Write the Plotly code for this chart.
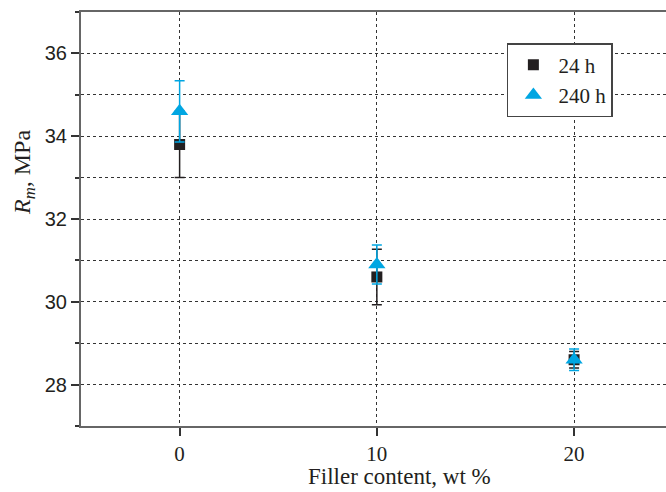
import plotly.graph_objects as go

filler = [0, 10, 20]
rm_24h = [33.8, 30.6, 28.6]
err_24h = [0.8, 0.67, 0.2]
rm_240h = [34.6, 30.9, 28.6]
err_240h = [0.74, 0.47, 0.26]

x_title = "Filler content, wt %"
y_title = "<i>R</i><sub><i>m</i></sub>, MPa"

BLACK = "#231f20"
CYAN = "#00a6e2"
SERIF = "Liberation Serif"

fig = go.Figure()
fig.add_trace(go.Scatter(
    x=filler, y=rm_24h, mode="markers", name="24 h",
    marker=dict(symbol="square", size=11, color=BLACK),
    error_y=dict(type="data", array=err_24h, visible=True, color=BLACK, thickness=1.5, width=5),
))
fig.add_trace(go.Scatter(
    x=filler, y=rm_240h, mode="markers", name="240 h",
    marker=dict(symbol="triangle-up", size=15, color=CYAN),
    error_y=dict(type="data", array=err_240h, visible=True, color=CYAN, thickness=1.5, width=5),
))

fig.update_layout(
    width=666, height=492,
    margin=dict(l=81, r=0, t=12, b=66),
    paper_bgcolor="white", plot_bgcolor="white",
    font=dict(family=SERIF, size=21, color="#231f20"),
    showlegend=True,
    legend=dict(
        x=0.728, y=0.925, xanchor="left", yanchor="top",
        bgcolor="white", bordercolor="#444", borderwidth=1.5,
        font=dict(family=SERIF, size=21), tracegroupgap=0, itemwidth=40,
    ),
    annotations=[
        dict(text=x_title, xref="paper", yref="paper", x=0.545, y=0, yshift=-50,
             xanchor="center", yanchor="middle", showarrow=False,
             font=dict(family=SERIF, size=23, color="#231f20")),
        dict(text=y_title, xref="paper", yref="paper", x=0, y=0.611, xshift=-57,
             xanchor="center", yanchor="middle", textangle=-90, showarrow=False,
             font=dict(family=SERIF, size=24, color="#231f20")),
    ],
)
fig.update_xaxes(
    range=[-5, 24.66], tickvals=[0, 10, 20], automargin=False,
    showline=True, linecolor="#666", linewidth=2, mirror=True,
    ticks="outside", ticklen=8, tickcolor="#333", tickwidth=1.5,
    showgrid=True, gridcolor="#333", griddash="dot", gridwidth=1,
    zeroline=False,
    tickfont=dict(family=SERIF, size=21),
)
fig.update_yaxes(
    range=[27, 37], tickvals=[28, 30, 32, 34, 36], automargin=False,
    showline=True, linecolor="#666", linewidth=2, mirror=False,
    ticks="outside", ticklen=8, tickcolor="#333", tickwidth=1.5,
    showgrid=True, gridcolor="#333", griddash="dot", gridwidth=1,
    minor=dict(dtick=1, tick0=27, showgrid=True, gridcolor="#333", griddash="dot", gridwidth=1,
               ticks="outside", ticklen=4, tickcolor="#333"),
    zeroline=False,
    tickfont=dict(family="Liberation Sans", size=20),
)

fig.write_html("out.html", config={"displayModeBar": False},
               post_script="document.body.style.margin='0px';")
